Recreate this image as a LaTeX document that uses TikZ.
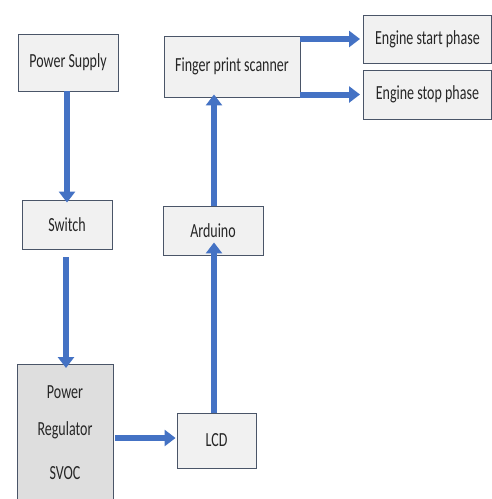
\documentclass[tikz,border=0pt]{standalone}
\usepackage{fontspec}
\setmainfont{Carlito}
\usetikzlibrary{arrows.meta}
\definecolor{boxfill}{HTML}{F1F1F1}
\definecolor{regfill}{HTML}{DEDEDE}
\definecolor{boxline}{HTML}{4A5568}
\definecolor{arrowblue}{HTML}{4472C4}
\newcommand{\lbl}[1]{\scalebox{0.7}[1]{#1}}
\tikzset{
  txt/.style={font=\fontsize{20}{22}\selectfont, text=black!85},
  blk/.style={draw=boxline, line width=0.9pt, fill=boxfill, inner sep=0pt, txt},
  flow/.style={draw=arrowblue, line width=6pt, -{Triangle[length=11pt,width=16pt]}},
}
\begin{document}
\begin{tikzpicture}[x=1pt,y=-1pt]
\useasboundingbox (0,0) rectangle (492,499);
\fill[white] (0,0) rectangle (492,499);
\node[blk, minimum width=100pt, minimum height=57pt] (ps) at (68,62.5) {\lbl{Power Supply}};
\node[blk, minimum width=90pt, minimum height=49pt] (sw) at (67,224.5) {\lbl{Switch}};
\node[blk, fill=regfill, minimum width=96pt, minimum height=140pt, anchor=north] (pr) at (65,364) {};
\node[txt] (prt1) at (65,392) {\lbl{Power}};
\node[txt] (prt2) at (65,430) {\lbl{Regulator}};
\node[txt] (prt3) at (65,473) {\lbl{SVOC}};
\node[blk, minimum width=79pt, minimum height=55pt] (lcd) at (216.5,440.5) {\lbl{LCD}};
\node[blk, minimum width=100pt, minimum height=49pt] (ard) at (213,230.5) {\lbl{Arduino}};
\node[blk, minimum width=136pt, minimum height=61pt] (fps) at (232,66.5) {\lbl{Finger print scanner}};
\node[blk, minimum width=128pt, minimum height=48pt, anchor=west] (es) at (363,39) {\lbl{Engine start phase}};
\node[blk, minimum width=128pt, minimum height=49pt, anchor=west] (ep) at (363,94.5) {\lbl{Engine stop phase}};
\coordinate (c1) at (67,0);
\coordinate (c2) at (66,0);
\coordinate (c3) at (0,438);
\coordinate (c4) at (214,0);
\draw[flow] (ps.south -| c1) -- ([yshift=-3pt]sw.north -| c1);
\draw[flow] ([yshift=-8pt]sw.south -| c2) -- ([yshift=-4pt]pr.north -| c2);
\draw[flow] ([xshift=2pt]pr.east |- c3) -- ([xshift=-1pt]lcd.west |- c3);
\draw[flow] (lcd.north -| c4) -- ([yshift=13pt]ard.south -| c4);
\draw[flow] (ard.north -| c4) -- ([yshift=3pt]fps.south -| c4);
\draw[flow] (fps.east |- es.west) -- ([xshift=-3pt]es.west);
\draw[flow] (fps.east |- ep.west) -- ([xshift=-3pt]ep.west);
\end{tikzpicture}
\end{document}
